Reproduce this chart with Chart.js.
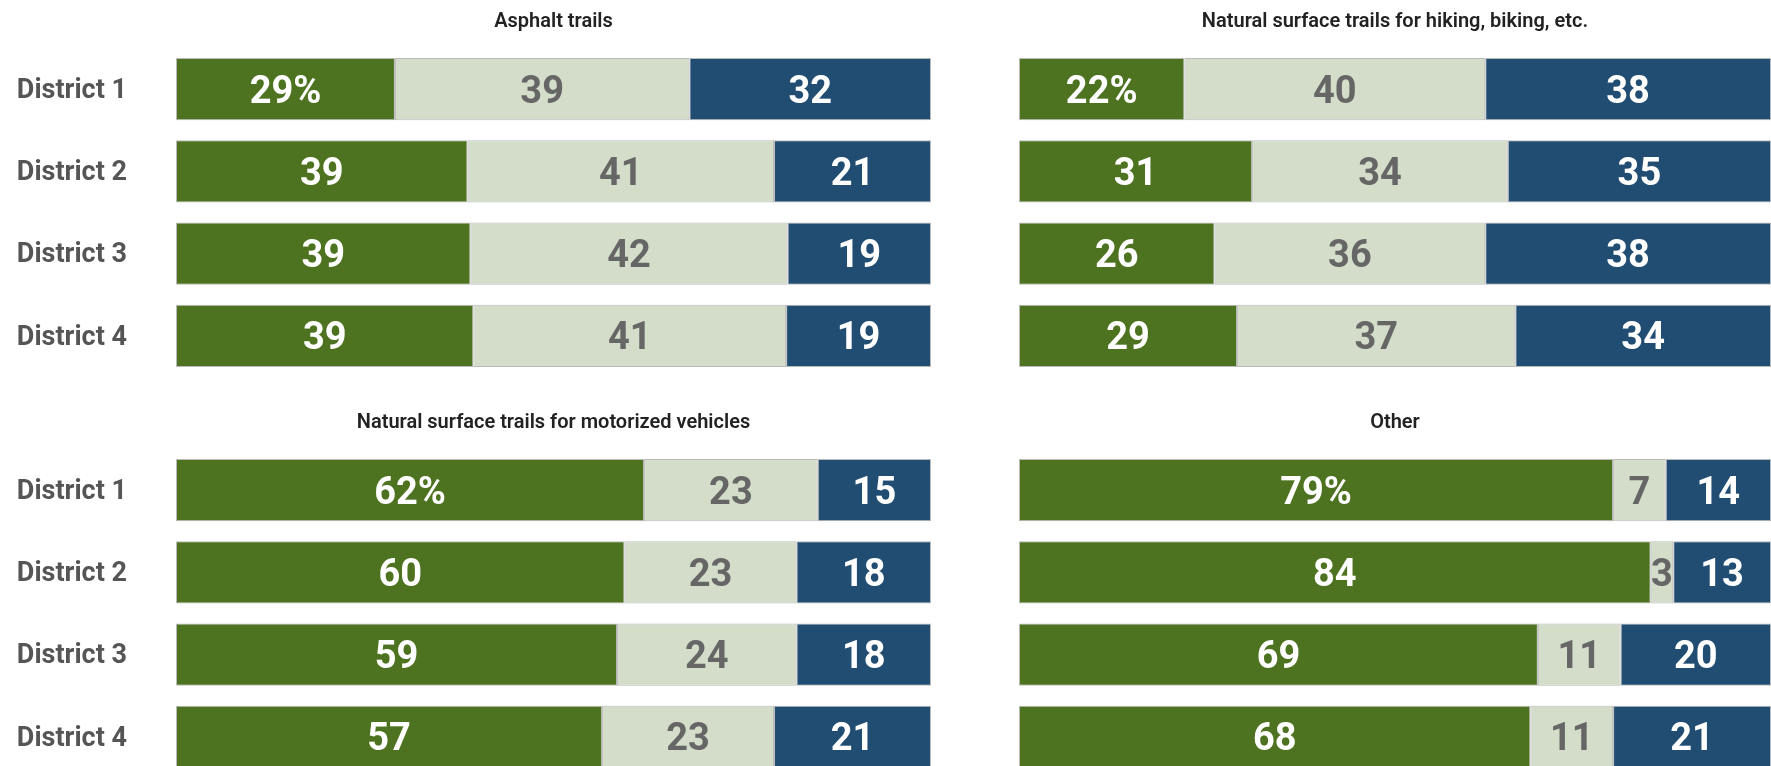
<!DOCTYPE html>
<html>
<head>
<meta charset="utf-8">
<script src="https://cdn.jsdelivr.net/npm/chart.js@4/dist/chart.umd.min.js"></script>
<style>
  html, body { margin: 0; padding: 0; background: #fff; overflow: hidden; width: 1771px; height: 766px; }
  canvas { position: absolute; }
</style>
</head>
<body>
<canvas id="c1" width="931" height="400" style="left:0;top:0"></canvas>
<canvas id="c2" width="752" height="400" style="left:1019px;top:0"></canvas>
<canvas id="c3" width="931" height="400" style="left:0;top:401px"></canvas>
<canvas id="c4" width="752" height="400" style="left:1019px;top:401px"></canvas>
<script>
const districts = ['District 1', 'District 2', 'District 3', 'District 4'];

// green / light / blue shares per district
const asphaltHigh = [29, 39, 39, 39];
const asphaltMid  = [39, 41, 42, 41];
const asphaltLow  = [32, 21, 19, 19];

const hikingHigh = [22, 31, 26, 29];
const hikingMid  = [40, 34, 36, 37];
const hikingLow  = [38, 35, 38, 34];

const motorHigh = [62, 60, 59, 57];
const motorMid  = [23, 23, 24, 23];
const motorLow  = [15, 18, 18, 21];

const otherHigh = [79, 84, 69, 68];
const otherMid  = [7, 3, 11, 11];
const otherLow  = [14, 13, 20, 21];

const colors = ['#4e7320', '#d3ddc9', '#214d72'];
const labelColors = ['#fff', '#666', '#fff'];

Chart.defaults.font.family = 'Roboto, "Open Sans", sans-serif';

const segmentLabels = {
  id: 'segmentLabels',
  afterDatasetsDraw(chart) {
    const ctx = chart.ctx;
    ctx.save();
    ctx.font = '700 38px Roboto';
    ctx.textAlign = 'center';
    chart.data.datasets.forEach((ds, di) => {
      chart.getDatasetMeta(di).data.forEach((bar, i) => {
        const v = ds.raw[i];
        const text = (i === 0 && di === 0) ? v + '%' : String(v);
        ctx.fillStyle = ds.labelColor;
        ctx.fillText(text, (bar.x + bar.base) / 2, bar.y + 13.5);
      });
    });
    ctx.restore();
  }
};

function makePanel(id, title, series, showLabels) {
  // rows are rounded, so scale each to 100 so bars fill the width
  const totals = districts.map((_, i) => series.reduce((a, s) => a + s[i], 0));
  new Chart(document.getElementById(id), {
    type: 'bar',
    data: {
      labels: districts,
      datasets: series.map((s, k) => ({
        data: s.map((v, i) => v / totals[i] * 100),
        raw: s,
        labelColor: labelColors[k],
        backgroundColor: colors[k],
        borderColor: 'rgba(140,140,140,0.6)',
        borderWidth: 1,
        borderSkipped: false,
        barPercentage: 0.755,
        categoryPercentage: 1
      }))
    },
    options: {
      indexAxis: 'y',
      responsive: false,
      animation: false,
      layout: { padding: { top: 0, bottom: 23, left: 0, right: 0 } },
      scales: {
        x: { stacked: true, min: 0, max: 100, display: false },
        y: {
          stacked: true,
          display: showLabels,
          grid: { display: false, drawTicks: false },
          border: { display: false },
          ticks: { padding: 49, labelOffset: 2, color: '#555', font: { size: 27, weight: 'bold' } },
          afterFit(scale) {
            if (!showLabels) return;
            scale.width = 176;
            scale.paddingTop = 0;
            scale.paddingBottom = 0;
          }
        }
      },
      plugins: {
        legend: { display: false },
        tooltip: { enabled: false },
        title: {
          display: true,
          text: title,
          fullSize: false,
          color: '#222',
          font: { size: 20, weight: '600' },
          padding: { top: 10, bottom: 14 }
        }
      }
    },
    plugins: [segmentLabels]
  });
}

makePanel('c1', 'Asphalt trails', [asphaltHigh, asphaltMid, asphaltLow], true);
makePanel('c2', 'Natural surface trails for hiking, biking, etc.', [hikingHigh, hikingMid, hikingLow], false);
makePanel('c3', 'Natural surface trails for motorized vehicles', [motorHigh, motorMid, motorLow], true);
makePanel('c4', 'Other', [otherHigh, otherMid, otherLow], false);
</script>
</body>
</html>
